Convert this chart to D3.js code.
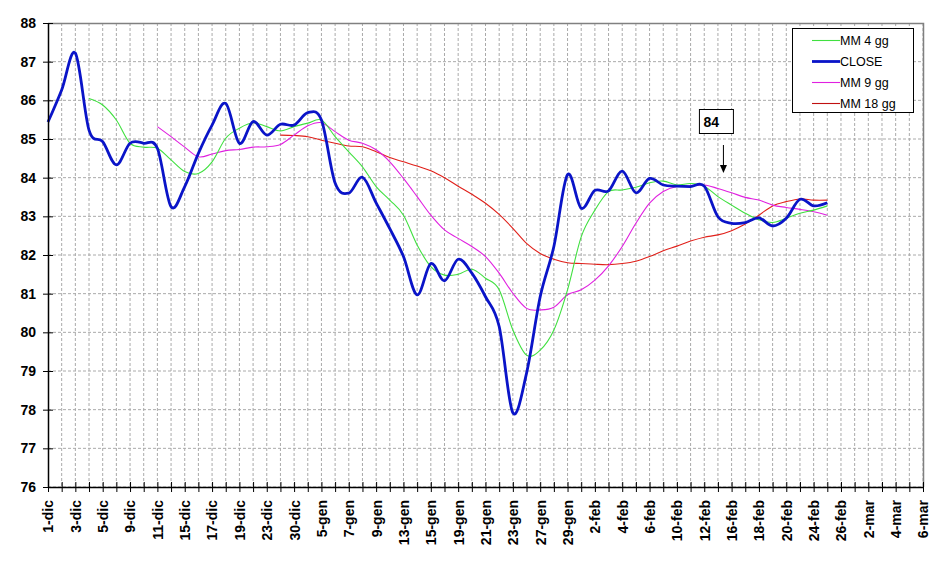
<!DOCTYPE html>
<html><head><meta charset="utf-8">
<script src="https://cdn.jsdelivr.net/npm/d3@7"></script>
<style>
html,body{margin:0;padding:0;background:#fff;}
svg{display:block;font-family:"Liberation Sans",Arial,sans-serif;}
</style></head>
<body><svg id="c" width="941" height="563"></svg>
<script>
const categories = ["1-dic","2-dic","3-dic","4-dic","5-dic","8-dic","9-dic","10-dic","11-dic","12-dic","15-dic","16-dic","17-dic","18-dic","19-dic","22-dic","23-dic","29-dic","30-dic","2-gen","5-gen","6-gen","7-gen","8-gen","9-gen","12-gen","13-gen","14-gen","15-gen","16-gen","19-gen","20-gen","21-gen","22-gen","23-gen","26-gen","27-gen","28-gen","29-gen","30-gen","2-feb","3-feb","4-feb","5-feb","6-feb","9-feb","10-feb","11-feb","12-feb","13-feb","16-feb","17-feb","18-feb","19-feb","20-feb","23-feb","24-feb","25-feb","26-feb","27-feb","2-mar","3-mar","4-mar","5-mar","6-mar"];
const tickLabels = categories.filter((d,i)=>i%2===0);
const yTicks = [76,77,78,79,80,81,82,83,84,85,86,87,88];

const close = [85.44,86.27,87.22,85.23,84.93,84.33,84.89,84.89,84.76,83.25,83.77,84.63,85.36,85.92,84.89,85.45,85.1,85.38,85.36,85.68,85.49,83.86,83.6,84.01,83.35,82.68,81.96,80.97,81.78,81.33,81.89,81.53,80.92,80.15,77.92,78.94,80.92,82.22,84.08,83.21,83.67,83.66,84.17,83.61,83.98,83.81,83.78,83.77,83.78,82.99,82.82,82.84,82.96,82.75,82.95,83.44,83.27,83.35];
const mm4 = [null,null,null,86.05,85.88,85.49,84.89,84.79,84.76,84.46,84.16,84.11,84.41,85.02,85.28,85.42,85.32,85.21,85.32,85.41,85.49,85.06,84.67,84.28,83.77,83.42,83.03,82.26,81.7,81.48,81.5,81.63,81.4,81.1,80.06,79.41,79.54,80.06,81.1,82.47,83.16,83.64,83.68,83.75,83.87,83.91,83.81,83.85,83.78,83.51,83.29,83.08,82.91,82.84,82.95,83.08,83.16,83.27];
const mm9 = [null,null,null,null,null,null,null,null,85.32,85.06,84.79,84.54,84.61,84.7,84.73,84.79,84.8,84.86,85.1,85.34,85.42,85.19,84.97,84.89,84.72,84.41,83.98,83.51,83.03,82.65,82.43,82.22,81.96,81.53,81.01,80.62,80.58,80.65,80.97,81.1,81.35,81.72,82.22,82.82,83.34,83.64,83.77,83.78,83.81,83.72,83.61,83.49,83.42,83.29,83.23,83.18,83.12,83.03];
const mm18 = [null,null,null,null,null,null,null,null,null,null,null,null,null,null,null,null,null,85.1,85.09,85.06,84.97,84.89,84.82,84.8,84.67,84.52,84.41,84.3,84.18,84.0,83.78,83.57,83.34,83.05,82.69,82.3,82.04,81.89,81.8,81.78,81.76,81.75,81.78,81.84,81.96,82.11,82.23,82.36,82.46,82.52,82.63,82.8,83.03,83.27,83.38,83.45,83.42,83.42];

const seriesNames = ["MM 4 gg","CLOSE","MM 9 gg","MM 18 gg"];
const annotationText = "84";
const annotationIndex = 49;

const svg = d3.select("#c");
const L=48,R=923,T=23,B=487;
const x = d3.scalePoint().domain(categories).range([L,R]);
const y = d3.scaleLinear().domain([76,88]).range([B,T]);

// grid
const grid = svg.append("g");
grid.selectAll("line.v").data(categories.slice(1)).enter().append("line")
  .attr("x1",d=>x(d)).attr("x2",d=>x(d)).attr("y1",T).attr("y2",B)
  .attr("stroke","#aaaaaa").attr("stroke-dasharray","3,2").attr("stroke-width",1);
grid.selectAll("line.h").data(yTicks.slice(0,-1)).enter().append("line")
  .attr("x1",L).attr("x2",R).attr("y1",d=>y(d)).attr("y2",d=>y(d))
  .attr("stroke","#aaaaaa").attr("stroke-dasharray","3,2").attr("stroke-width",1);
// border top/right
svg.append("path").attr("d",`M${L},${T+0.5}H${R+0.5}V${B}`).attr("fill","none").attr("stroke","#808080").attr("stroke-width",1.5);

// series
const line = d3.line().defined(d=>d!=null).x((d,i)=>x(categories[i])).y(d=>y(d)).curve(d3.curveCatmullRom.alpha(0));
const specs = [
  {data:mm18,color:"#e0201a",w:1.1},
  {data:mm9,color:"#e020e0",w:1.1},
  {data:mm4,color:"#40e040",w:1.1},
  {data:close,color:"#0a14c8",w:2.8}
];
specs.forEach(s=>{
  svg.append("path").datum(s.data).attr("d",line).attr("fill","none")
    .attr("stroke",s.color).attr("stroke-width",s.w).attr("stroke-linejoin","round");
});

// axes
const yAxis = d3.axisLeft(y).tickValues(yTicks).tickSizeInner(5).tickSizeOuter(0).tickPadding(8);
const ya = svg.append("g").attr("transform",`translate(${L},0)`).call(yAxis);
ya.select(".domain").attr("stroke","#000").attr("stroke-width",1.5);
ya.selectAll(".tick line").attr("stroke","#000").attr("x2",-5).attr("x1",5);
ya.selectAll(".tick text").attr("font-size",14).attr("font-weight","bold").attr("fill","#000").attr("font-family","Liberation Sans, Arial, sans-serif").attr("x",-12);

const xAxis = d3.axisBottom(x).tickValues(categories).tickSizeInner(5).tickSizeOuter(0).tickFormat(d=>tickLabels.includes(d)?d:"");
const xa = svg.append("g").attr("transform",`translate(0,${B})`).call(xAxis);
xa.select(".domain").attr("stroke","#000").attr("stroke-width",1.5);
xa.selectAll(".tick line").attr("stroke","#000").attr("y1",-5).attr("y2",5);
xa.selectAll(".tick text").attr("font-size",14).attr("font-weight","bold").attr("fill","#000")
  .attr("font-family","Liberation Sans, Arial, sans-serif")
  .attr("transform","rotate(-90)").attr("text-anchor","end").attr("x",-13).attr("y",0).attr("dy","0.35em");

// annotation
const ax = x(categories[annotationIndex])+5.5;
svg.append("rect").attr("x",ax-24).attr("y",109.5).attr("width",34).attr("height",24).attr("fill","#fff").attr("stroke","#000").attr("stroke-width",1);
svg.append("text").attr("x",ax-20).attr("y",126.5).attr("font-size",14).attr("font-weight","bold").text(annotationText);
svg.append("line").attr("x1",ax).attr("x2",ax).attr("y1",145).attr("y2",166).attr("stroke","#000").attr("stroke-width",1);
svg.append("path").attr("d",`M${ax-3.5},165L${ax+3.5},165L${ax},173Z`).attr("fill","#000");

// legend
const lg = svg.append("g");
lg.append("rect").attr("x",792.5).attr("y",28.5).attr("width",121).attr("height",84).attr("fill","#fff").attr("stroke","#000").attr("stroke-width",1);
const legendColors = ["#40e040","#0a14c8","#e020e0","#c01010"];
const legendW = [1.1,2.8,1.1,1.1];
seriesNames.forEach((n,i)=>{
  const yy = 40.5 + i*21;
  lg.append("line").attr("x1",812).attr("x2",840).attr("y1",yy).attr("y2",yy).attr("stroke",legendColors[i]).attr("stroke-width",legendW[i]);
  lg.append("text").attr("x",840).attr("y",yy+4.5).attr("font-size",12.5).attr("fill","#000").text(n);
});
</script></body></html>
